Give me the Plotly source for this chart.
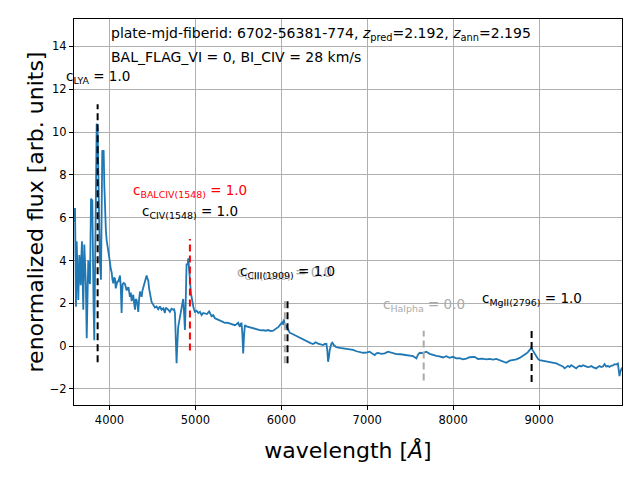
import plotly.graph_objects as go

wave = [
    3590, 3599, 3610, 3618, 3627, 3637, 3649, 3657, 3665, 3672,
    3680, 3688, 3695, 3707, 3716, 3725, 3735, 3744, 3753, 3763,
    3773, 3785, 3792, 3800, 3808, 3815, 3823, 3835, 3844, 3851,
    3856, 3862, 3868, 3874, 3881, 3888, 3901, 3908, 3916, 3924,
    3932, 3940, 3948, 3958, 3967, 3978, 3992, 4006, 4015, 4025,
    4035, 4044, 4054, 4064, 4073, 4083, 4093, 4102, 4112, 4122,
    4131, 4141, 4147, 4153, 4166, 4180, 4190, 4200, 4210, 4220,
    4229, 4238, 4248, 4258, 4268, 4277, 4287, 4297, 4306, 4316,
    4326, 4335, 4345, 4355, 4364, 4374, 4384, 4393, 4403, 4413,
    4423, 4432, 4442, 4452, 4461, 4471, 4480, 4490, 4500, 4510,
    4529, 4548, 4567, 4587, 4606, 4626, 4635, 4645, 4655, 4665,
    4684, 4703, 4722, 4742, 4752, 4762, 4768, 4773, 4777, 4781,
    4785, 4788, 4794, 4800, 4813, 4827, 4838, 4850, 4858, 4866,
    4872, 4878, 4884, 4890, 4897, 4905, 4913, 4917, 4924, 4930,
    4937, 4944, 4950, 4956, 4965, 4975, 4985, 4995, 5014, 5034,
    5053, 5072, 5091, 5110, 5135, 5160, 5174, 5188, 5207, 5227,
    5256, 5285, 5314, 5343, 5372, 5401, 5430, 5459, 5478, 5498,
    5507, 5517, 5527, 5537, 5546, 5556, 5566, 5576, 5595, 5614,
    5643, 5672, 5701, 5730, 5760, 5789, 5818, 5847, 5876, 5905,
    5928, 5951, 5967, 5983, 5998, 6014, 6022, 6029, 6036, 6044,
    6052, 6060, 6070, 6080, 6099, 6118, 6137, 6157, 6176, 6195,
    6215, 6234, 6254, 6283, 6312, 6341, 6370, 6399, 6428, 6457,
    6486, 6505, 6525, 6535, 6544, 6554, 6563, 6583, 6595, 6610,
    6640, 6680, 6719, 6758, 6796, 6835, 6874, 6913, 6951, 6990,
    7028, 7058, 7087, 7107, 7126, 7165, 7204, 7242, 7291, 7340,
    7388, 7437, 7485, 7533, 7553, 7572, 7591, 7610, 7649, 7688,
    7727, 7765, 7804, 7842, 7881, 7920, 7959, 7998, 8037, 8075,
    8114, 8153, 8192, 8250, 8289, 8337, 8386, 8425, 8463, 8502,
    8541, 8580, 8619, 8658, 8696, 8735, 8774, 8812, 8851, 8870,
    8890, 8910, 8930, 8948, 8968, 8987, 9006, 9045, 9084, 9122,
    9161, 9200, 9239, 9277, 9297, 9316, 9336, 9355, 9374, 9394,
    9413, 9432, 9452, 9471, 9490, 9510, 9529, 9549, 9568, 9587,
    9607, 9626, 9646, 9665, 9685, 9704, 9723, 9743, 9762, 9781,
    9801, 9820, 9839, 9859, 9878, 9897, 9917, 9926, 9936, 9945,
    9955, 9965,
]
flux = [
    5.8, 6.45, 1.84, 4.9, 3.6, 2.15, 4.25, 3.4, 2.85, 4.1,
    4.9, 3.0, 1.7, 4.75, 3.8, 2.9, 0.37, 2.6, 4.0, 3.1,
    2.9, 6.9, 6.8, 6.85, 2.9, 1.8, 0.28, 4.0, 7.5, 10.4,
    10.2, 10.1, 8.0, 6.35, 5.1, 4.0, 3.1, 6.5, 9.15, 9.0,
    9.15, 7.5, 6.35, 5.4, 4.95, 4.7, 4.2, 3.9, 3.6, 3.45,
    3.1, 2.93, 3.2, 3.15, 2.7, 2.85, 3.05, 3.0, 3.15, 3.3,
    2.8, 1.55, 2.4, 2.9, 2.95, 2.9, 2.75, 2.6, 2.7, 2.75,
    2.55, 2.3, 2.5, 2.1, 2.3, 2.4, 2.0, 1.7, 2.2, 2.15,
    1.9, 1.6, 2.2, 2.55, 2.45, 2.3, 2.6, 2.75, 2.9, 3.0,
    3.2, 3.3, 3.15, 3.05, 2.7, 2.4, 2.2, 2.05, 2.0, 1.95,
    1.8, 1.85, 1.72, 1.85, 1.7, 1.77, 1.65, 1.55, 1.8, 1.77,
    1.7, 1.6, 1.75, 1.7, 1.72, 1.55, 1.0, 0.13, -0.5, -0.8,
    -0.3, 0.13, 0.6, 0.9, 1.2, 1.55, 1.8, 1.95, 2.2, 1.7,
    1.2, 0.75, 1.5, 2.75, 3.85, 3.8, 3.9, 4.1, 3.7, 3.2,
    2.8, 2.6, 2.4, 2.3, 2.0, 1.85, 1.7, 1.6, 1.65, 1.55,
    1.6, 1.45, 1.55, 1.53, 1.5, 1.62, 1.5, 1.4, 1.45, 1.3,
    1.25, 1.2, 1.12, 1.09, 1.1, 1.06, 1.0, 0.98, 1.02, 1.09,
    1.0, 0.9, 1.05, 1.06, 0.6, -0.34, 0.5, 0.98, 0.92, 0.9,
    0.85, 0.83, 0.8, 0.78, 0.74, 0.75, 0.72, 0.75, 0.7, 0.72,
    0.78, 0.83, 0.9, 0.98, 1.05, 1.14, 1.0, 1.25, 1.1, 0.83,
    0.9, 0.98, 0.85, 0.75, 0.62, 0.59, 0.55, 0.5, 0.45, 0.42,
    0.4, 0.33, 0.3, 0.24, 0.2, 0.14, 0.1, 0.18, 0.12, 0.07,
    0.05, 0.1, 0.1, -0.2, -0.73, -0.5, -0.19, 0.12, 0.16, 0.05,
    -0.05, -0.08, -0.1, -0.14, -0.16, -0.18, -0.24, -0.27, -0.31, -0.3,
    -0.26, -0.35, -0.42, -0.34, -0.32, -0.36, -0.34, -0.26, -0.33, -0.37,
    -0.38, -0.4, -0.44, -0.47, -0.52, -0.57, -0.4, -0.31, -0.33, -0.26,
    -0.36, -0.42, -0.45, -0.48, -0.53, -0.47, -0.55, -0.5, -0.57, -0.56,
    -0.62, -0.58, -0.52, -0.5, -0.6, -0.58, -0.62, -0.6, -0.63, -0.6,
    -0.65, -0.7, -0.78, -0.68, -0.66, -0.62, -0.55, -0.47, -0.35, -0.28,
    -0.16, -0.08, -0.22, -0.34, -0.5, -0.6, -0.65, -0.68, -0.7, -0.73,
    -0.76, -0.81, -0.88, -0.95, -1.04, -0.96, -0.92, -0.98, -0.89, -0.94,
    -0.99, -1.04, -0.96, -0.92, -0.95, -0.89, -0.92, -0.95, -0.98, -0.97,
    -0.93, -0.98, -1.0, -1.04, -0.98, -0.93, -0.98, -0.95, -0.84, -0.95,
    -0.93, -0.97, -0.92, -0.9, -0.84, -0.86, -0.81, -1.1, -1.4, -1.2,
    -1.04, -1.0,
]

# emission-line markers: position, vertical extent, label, colour
line_names = ["LYA", "BALCIV(1548)", "CIII(1909)", "CIII(1909)", "Halpha", "MgII(2796)"]
line_wave = [3862, 4936, 6041, 6072, 7657, 8913]
line_lo = [-0.75, -0.2, -0.8, -0.8, -1.6, -1.67]
line_hi = [11.3, 5.0, 2.1, 2.1, 0.72, 0.75]
line_conf = ["1.0", "1.0", "0.0", "1.0", "0.0", "1.0"]
line_colors = ["black", "red", "#aaaaaa", "black", "#aaaaaa", "black"]
label_y = [12.55, 7.24, 3.42, 3.46, 1.92, 2.2]

# CIV label sits under the BAL label (its line hidden by the red one)
civ_label = ("CIV(1548)", 4936, 6.26)

fig = go.Figure()

fig.add_trace(
    go.Scatter(
        x=wave,
        y=flux,
        mode="lines",
        line=dict(color="#1f77b4", width=1.8),
        showlegend=False,
    )
)

for name, w, lo, hi, c in zip(line_names, line_wave, line_lo, line_hi, line_colors):
    fig.add_trace(
        go.Scatter(
            x=[w, w],
            y=[lo, hi],
            mode="lines",
            line=dict(color=c, width=2, dash="7px,4px"),
            showlegend=False,
        )
    )

for name, w, conf, c, ly in zip(line_names, line_wave, line_conf, line_colors, label_y):
    fig.add_annotation(
        x=w, y=ly, text=f"c<sub>{name}</sub> = {conf}",
        showarrow=False, xanchor="center", yanchor="middle",
        font=dict(size=13.5, color=c),
    )

fig.add_annotation(
    x=civ_label[1], y=civ_label[2], text=f"c<sub>{civ_label[0]}</sub> = 1.0",
    showarrow=False, xanchor="center", yanchor="middle",
    font=dict(size=13.5, color="black"),
)

fig.add_annotation(
    x=4000, y=14.58, xanchor="left", yanchor="middle", showarrow=False,
    text="plate-mjd-fiberid: 6702-56381-774, <i>z</i><sub>pred</sub>=2.192, <i>z</i><sub>ann</sub>=2.195",
    font=dict(size=14, color="black"),
)
fig.add_annotation(
    x=4000, y=13.5, xanchor="left", yanchor="middle", showarrow=False,
    text="BAL_FLAG_VI = 0, BI_CIV = 28 km/s",
    font=dict(size=14, color="black"),
)

axis_style = dict(
    showline=True, mirror=True, linecolor="black", linewidth=1,
    ticks="outside", ticklen=4, tickcolor="black",
    showgrid=True, gridcolor="#b0b0b0", gridwidth=1, zeroline=False,
    tickfont=dict(size=11.5, color="black"),
)
fig.update_xaxes(
    range=[3587, 9965], dtick=1000, tick0=0, tickformat="d",
    title=dict(text="wavelength [<i>Å</i>]", font=dict(size=22, color="black"), standoff=16),
    **axis_style,
)
fig.update_yaxes(
    range=[-2.75, 15.28], dtick=2, tick0=0,
    title=dict(text="renormalized flux [arb. units]", font=dict(size=22, color="black"), standoff=0),
    **axis_style,
)

# the page body adds an 8px offset, so the figure is 8px smaller than the window
fig.update_layout(
    width=632, height=472,
    margin=dict(l=66, r=18, t=11, b=75),
    plot_bgcolor="white", paper_bgcolor="white",
    font=dict(family="DejaVu Sans"),
)

fig.write_html("out.html")
